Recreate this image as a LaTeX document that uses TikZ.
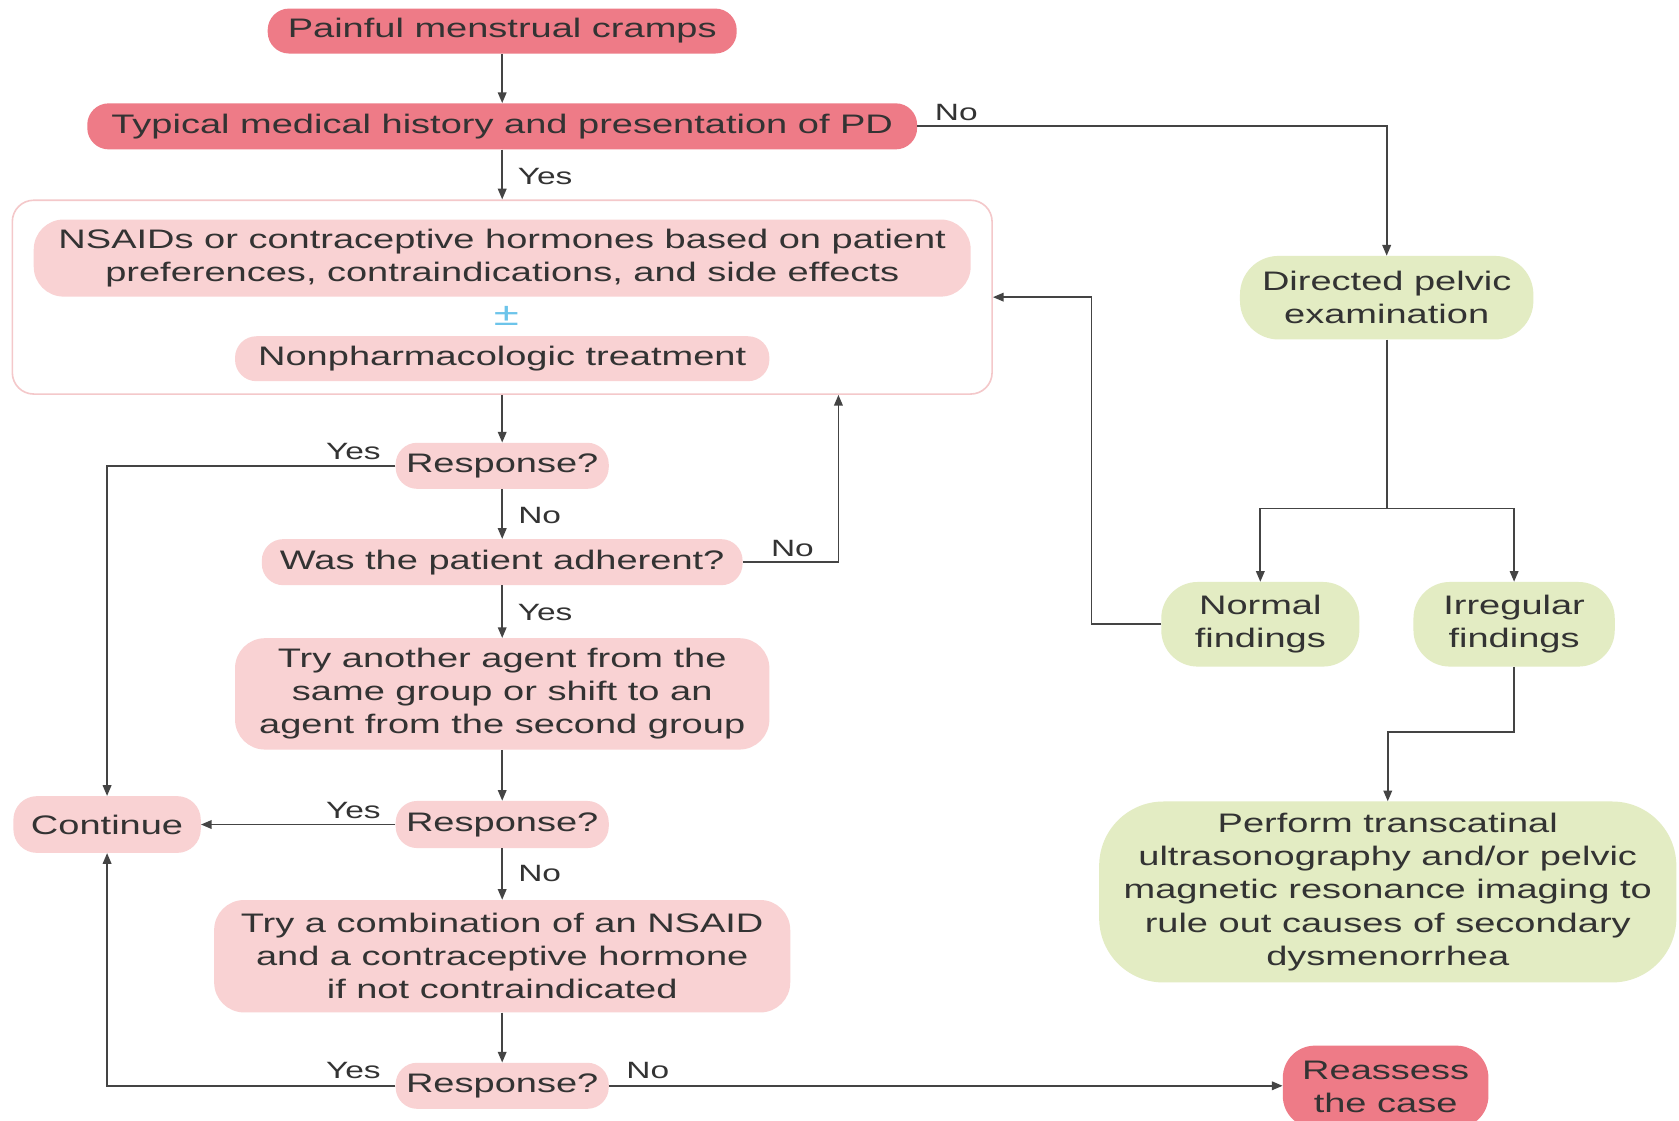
\documentclass[tikz,border=0pt]{standalone}
\usepackage{fontspec}
\setmainfont{Liberation Sans}[FakeStretch=1.42]
\usetikzlibrary{arrows.meta}
\definecolor{dk}{HTML}{EE7B87}
\definecolor{lt}{HTML}{F9D2D3}
\definecolor{gr}{HTML}{E3ECC3}
\definecolor{bd}{HTML}{F4C8CA}
\definecolor{ln}{HTML}{444444}
\definecolor{tx}{HTML}{333333}
\definecolor{pmc}{HTML}{6CC4EA}
\begin{document}
\begin{tikzpicture}[x=1pt,y=-1pt,
  box/.style={rounded corners=20pt, inner sep=0pt, align=center, text=tx, font=\fontsize{25}{31}\selectfont},
  dkbox/.style={box, fill=dk},
  ltbox/.style={box, fill=lt},
  grbox/.style={box, fill=gr},
  conn/.style={draw=ln, line width=1.6pt, -{Triangle[length=10pt,width=8pt]}},
  plain/.style={draw=ln, line width=1.6pt},
  lbl/.style={text=tx, inner sep=0pt, font=\fontsize{22}{26}\selectfont}]
\useasboundingbox (0,0) rectangle (1568,1046);
\clip (0,0) rectangle (1568,1046);
\fill[white] (0,0) rectangle (1568,1046);

% left column
\node[dkbox, minimum width=438pt, minimum height=42pt] (painful) at (469,29) {Painful menstrual cramps};
\node[dkbox, minimum width=775pt, minimum height=43pt] (typical) at (469,118) {Typical medical history and presentation of PD};
\node[box, draw=bd, line width=1.5pt, fill=white, minimum width=915pt, minimum height=181pt] (outer) at (469,277.5) {};
\node[ltbox, rounded corners=28pt, minimum width=875pt, minimum height=72pt] (nsaid) at (469,241) {NSAIDs or contraceptive hormones based on patient\\preferences, contraindications, and side effects};
\node[text=pmc, inner sep=0pt, font=\fontsize{30}{30}\selectfont] (pm) at (473,295) {±};
\node[ltbox, minimum width=499pt, minimum height=42pt] (nonph) at (469,335) {Nonpharmacologic treatment};
\node[ltbox, minimum width=199pt, minimum height=43pt] (resp1) at (469,435) {Response?};
\node[ltbox, minimum width=449pt, minimum height=43pt] (adher) at (469,525) {Was the patient adherent?};
\node[ltbox, rounded corners=28pt, minimum width=499pt, minimum height=104pt] (tryother) at (469,648) {Try another agent from the\\same group or shift to an\\agent from the second group};
\node[ltbox, minimum width=199pt, minimum height=44pt] (resp2) at (469,770) {Response?};
\node[ltbox, rounded corners=22pt, minimum width=175pt, minimum height=53pt] (cont) at (100,770) {Continue};
\node[ltbox, rounded corners=28pt, minimum width=538pt, minimum height=105pt] (combo) at (469,893) {Try a combination of an NSAID\\and a contraceptive hormone\\if not contraindicated};
\node[ltbox, minimum width=199pt, minimum height=43pt] (resp3) at (469,1014) {Response?};

% right column
\node[grbox, rounded corners=36pt, minimum width=274pt, minimum height=78pt] (directed) at (1295,278) {Directed pelvic\\examination};
\node[grbox, rounded corners=34pt, minimum width=185pt, minimum height=79pt] (normal) at (1177,583) {Normal\\findings};
\node[grbox, rounded corners=34pt, minimum width=188pt, minimum height=79pt] (irregular) at (1414,583) {Irregular\\findings};
\node[grbox, rounded corners=60pt, minimum width=539pt, minimum height=169pt] (perform) at (1296,833) {Perform transcatinal\\ultrasonography and/or pelvic\\magnetic resonance imaging to\\rule out causes of secondary\\dysmenorrhea};
\node[dkbox, rounded corners=30pt, minimum width=192pt, minimum height=77pt] (reassess) at (1294,1015) {Reassess\\the case};

% connectors
\coordinate (split) at (1295,475);
\coordinate (fb) at (783,0);
\draw[conn] (painful.south) -- (typical.north);
\draw[conn] (typical.south) -- (typical.south |- outer.north);
\draw[conn] (typical.east) -| (directed.north);
\draw[conn] (outer.south) -- (resp1.north);
\draw[conn] (resp1.west) -| (cont.north);
\draw[conn] (resp1.south) -- (adher.north);
\draw[conn] (adher.east) -| (fb |- outer.south);
\draw[conn] (adher.south) -- (tryother.north);
\draw[conn] (tryother.south) -- (resp2.north);
\draw[conn] (resp2.west) -- (cont.east);
\draw[conn] (resp2.south) -- (combo.north);
\draw[conn] (combo.south) -- (resp3.north);
\draw[conn] (resp3.west) -| (cont.south);
\draw[conn] (resp3.east) -- (resp3.east -| reassess.west);
\draw[plain] (directed.south) -- (split);
\draw[conn] (split) -| (normal.north);
\draw[conn] (split) -| (irregular.north);
\draw[conn] (normal.west) -- ++(-65,0) |- (outer.east);
\draw[conn] (irregular.south) -- ++(0,61) -| (perform.north);

% labels
\node[lbl] (l1) at (893,105) {No};
\node[lbl] (l2) at (509,165) {Yes};
\node[lbl] (l3) at (330,422) {Yes};
\node[lbl] (l4) at (504,481) {No};
\node[lbl] (l5) at (740,512) {No};
\node[lbl] (l6) at (509,572) {Yes};
\node[lbl] (l7) at (330,757) {Yes};
\node[lbl] (l8) at (504,816) {No};
\node[lbl] (l9) at (330,1000) {Yes};
\node[lbl] (l10) at (605,1000) {No};
\end{tikzpicture}
\end{document}
